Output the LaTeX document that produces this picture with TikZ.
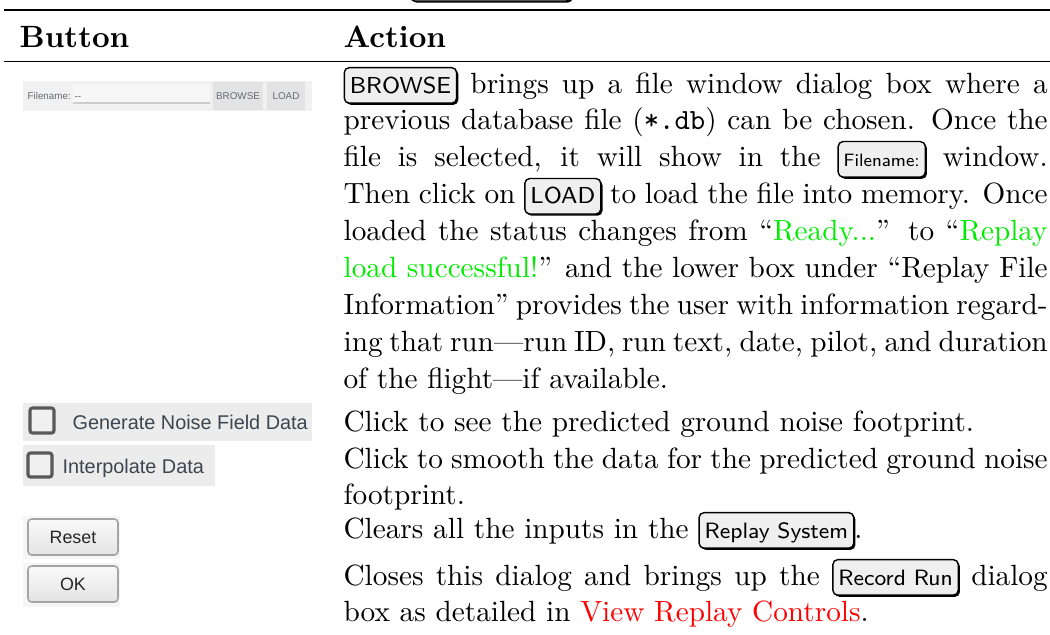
\documentclass[tikz,border=0pt]{standalone}
\usepackage{fontspec}
\newfontfamily\uifont{Liberation Sans}
\usetikzlibrary{shadows}
\definecolor{keyfill}{HTML}{EFEFEF}
\definecolor{okgreen}{RGB}{0,235,0}
\definecolor{lnkred}{RGB}{255,0,0}
\definecolor{uitext}{HTML}{3C4650}
\definecolor{uibg}{HTML}{ECECEC}
\definecolor{barbg}{HTML}{F1F1F1}
\definecolor{barbtn}{HTML}{E3E3E3}
\definecolor{barfield}{HTML}{F7F7F7}
\definecolor{boxline}{HTML}{595959}
\definecolor{btnline}{HTML}{A4A4A4}
\tikzset{
  keybox/.style={draw=black, line width=0.45pt, fill=keyfill, rounded corners=1.6pt,
    inner xsep=1.8pt, inner ysep=1.4pt, text width={}, align=center,
    text height=0.72em, text depth=0.2em,
    drop shadow={shadow xshift=0.55pt, shadow yshift=-0.55pt, fill=black, opacity=1}},
  desc/.style={text width=228.6pt, align=justify, inner sep=0pt, anchor=base west,
    font=\fontsize{9.5}{12}\selectfont},
  head/.style={inner sep=0pt, anchor=base west, font=\fontsize{10}{12}\selectfont\bfseries},
  uitiny/.style={inner sep=0pt, text=uitext!80, font=\uifont\fontsize{3.2}{4}\selectfont},
  uilabel/.style={inner sep=0pt, anchor=base west, text=uitext, font=\uifont\fontsize{6.45}{8}\selectfont},
  uibtntext/.style={inner sep=0pt, text=black!85, font=\uifont\fontsize{5.8}{7}\selectfont},
  checkbox/.style={draw=boxline, line width=1pt, fill=white!94!black, rounded corners=0.8pt},
  winbtn/.style={draw=btnline, line width=0.5pt, top color=white!98!black, bottom color=white!89!black, rounded corners=1.2pt},
}
\newcommand\uikey[2]{\tikz[baseline=(k.base)]\node[keybox,font=\fontsize{#1}{#1}\selectfont\sffamily] (k) {#2};}
\begin{document}
\begin{tikzpicture}[x=0.32468pt, y=-0.32468pt]
\useasboundingbox (0,0) rectangle (1050,635);
\clip (0,0) rectangle (1050,635);
% partial key above the table
\path[draw=black, line width=0.45pt, fill=keyfill, rounded corners=1.6pt,
  drop shadow={shadow xshift=0.55pt, shadow yshift=-0.55pt, fill=black, opacity=1}]
  (410,-30) rectangle (571,1);
% rules
\fill (4,8.8) rectangle (1050,11.3);
\fill (4,60.8) rectangle (1050,62.3);
% header
\node[head] (hb) at (19,47) {Button};
\node[head] (ha) at (343,47) {Action};
% row 1 picture: filename bar
\fill[barbg] (23,81) rectangle (312,111);
\fill[barfield] (73,84) rectangle (210,103);
\draw[black!20, line width=0.4pt] (73,103) -- (210,103);
\fill[barbtn] (213,82) rectangle (263,110);
\fill[barbtn] (267,82) rectangle (305,110);
\node[uitiny, anchor=base west] (fn) at (27,99) {Filename:};
\node[uitiny, anchor=base west] (fd) at (74,99) {--};
\node[uitiny] (fb) at (238,96) {BROWSE};
\node[uitiny] (fl) at (286,96) {LOAD};
% row 1 text
\node[desc] (act1) at (343,93) {\uikey{7.5}{BROWSE} brings up a file window dialog box where a\linebreak previous database file (\texttt{*.db}) can be chosen. Once the\linebreak file is selected, it will show in the \uikey{5.8}{Filename:} window.\linebreak Then click on \uikey{7.5}{LOAD} to load the file into memory. Once\linebreak loaded the status changes from ``\textcolor{okgreen}{Ready...}'' to ``\textcolor{okgreen}{Replay\linebreak load successful!}'' and the lower box under ``Replay File\linebreak Information'' provides the user with information regard-\linebreak ing that run---run ID, run text, date, pilot, and duration\linebreak of the flight---if available.};
% row 2
\fill[uibg] (23,403) rectangle (312,441);
\draw[checkbox] (30,408) rectangle (54,433);
\node[uilabel] (gn) at (72,429) {Generate Noise Field Data};
\node[desc] (act2) at (343,431) {Click to see the predicted ground noise footprint.};
% row 3
\fill[uibg] (23,445) rectangle (215,486);
\draw[checkbox] (28,453) rectangle (52,477);
\node[uilabel] (ip) at (62,473) {Interpolate Data};
\node[desc] (act3) at (343,468) {Click to smooth the data for the predicted ground noise\linebreak footprint.};
% row 4
\fill[white!96!black] (23,516) rectangle (120,559);
\draw[winbtn] (28,519) rectangle (118,555);
\node[uibtntext] (rs) at (73,537) {Reset};
\node[desc] (act4) at (343,538) {Clears all the inputs in the \uikey{7.2}{Replay System}.};
% row 5
\fill[white!96!black] (23,563) rectangle (120,607);
\draw[winbtn] (28,566) rectangle (118,602);
\node[uibtntext] (ok) at (73,584) {OK};
\node[desc] (act5) at (343,585) {Closes this dialog and brings up the \uikey{7.2}{Record Run} dialog\linebreak box as detailed in \textcolor{lnkred}{View Replay Controls}.};
\end{tikzpicture}
\end{document}
